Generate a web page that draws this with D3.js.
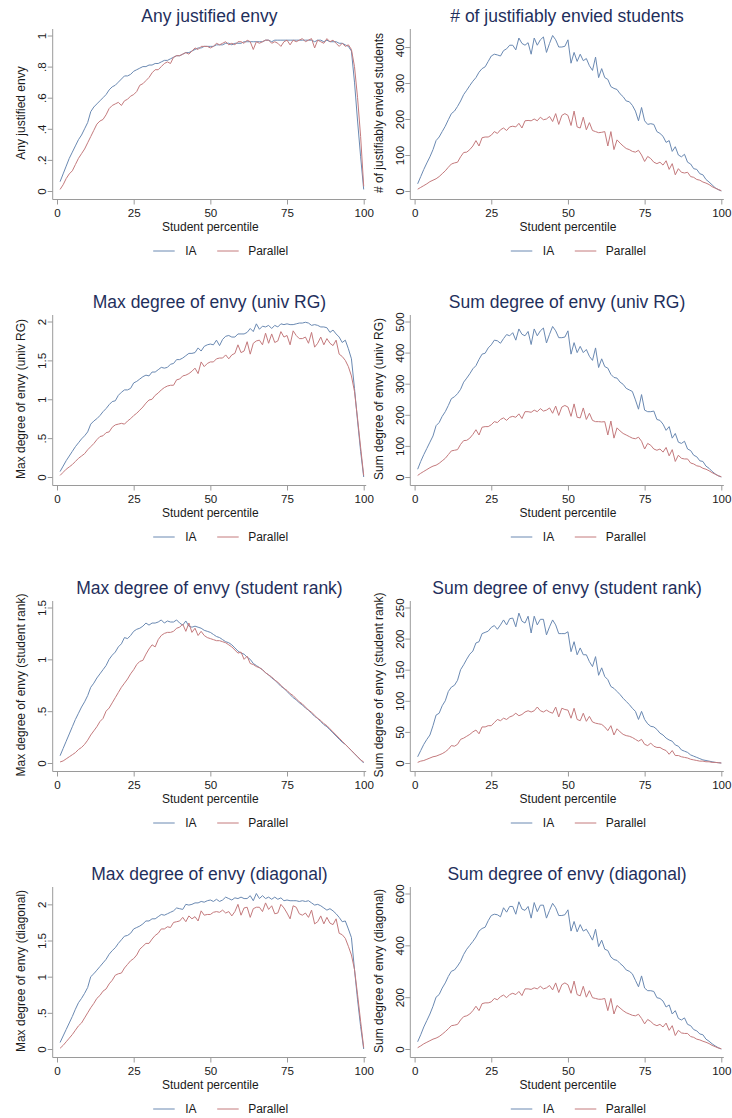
<!DOCTYPE html>
<html><head><meta charset="utf-8">
<script src="https://cdn.jsdelivr.net/npm/d3@7"></script>
<style>body{margin:0;background:#fff}svg{display:block;font-family:"Liberation Sans",Arial,sans-serif}</style>
</head><body><svg id="c" width="732" height="1118"></svg>
<script>
const percentile = d3.range(1, 101);
const xTicks = [0, 25, 50, 75, 100];
const xTitle = "Student percentile";
const seriesNames = ["IA", "Parallel"];

// Panel 1: Any justified envy
const anyEnvyIA = [.06,.11,.16,.21,.25,.29,.33,.36,.40,.44,
 .51,.54,.56,.58,.60,.62,.65,.67,.68,.70,
 .72,.74,.74,.75,.77,.78,.79,.80,.80,.81,
 .81,.82,.82,.83,.84,.84,.85,.86,.87,.87,
 .88,.89,.89,.90,.91,.92,.92,.93,.93,.93,
 .93,.94,.94,.94,.95,.95,.94,.95,.95,.95,
 .96,.96,.96,.96,.96,.96,.96,.97,.97,.96,
 .97,.97,.97,.97,.97,.97,.97,.97,.97,.97,
 .97,.97,.97,.96,.97,.97,.96,.97,.96,.96,
 .96,.95,.95,.94,.93,.90,.70,.45,.22,.01];
const anyEnvyPar = [.01,.04,.08,.11,.13,.17,.21,.24,.27,.31,
 .35,.39,.43,.45,.46,.49,.53,.55,.56,.57,
 .55,.58,.59,.61,.62,.64,.68,.69,.71,.73,
 .76,.78,.78,.80,.82,.83,.82,.86,.87,.87,
 .88,.89,.88,.90,.92,.91,.93,.93,.93,.92,
 .93,.95,.94,.95,.96,.94,.95,.94,.96,.96,
 .95,.97,.96,.91,.96,.95,.96,.97,.97,.95,
 .96,.95,.93,.96,.97,.94,.97,.96,.97,.98,
 .96,.97,.98,.92,.97,.96,.95,.98,.96,.97,
 .95,.93,.95,.93,.94,.91,.80,.60,.35,.03];

// Panel 2: # of justifiably envied students
const numEnviedIA = [20,40,60,78,95,115,140,150,165,180,
 198,215,222,235,250,268,280,293,305,315,
 330,340,345,360,375,380,378,375,390,395,
 405,405,392,425,410,405,412,380,425,405,
 420,428,385,410,432,420,400,400,402,420,
 355,385,360,380,362,368,348,335,372,315,
 340,315,310,290,285,282,270,262,250,248,
 238,222,195,232,195,185,187,185,165,160,
 152,135,140,110,123,100,95,102,80,75,
 62,60,48,45,32,25,17,9,4,0];
const numEnviedPar = [5,10,15,20,26,30,34,40,48,56,
 66,75,78,80,95,107,108,115,125,140,
 125,148,150,150,155,165,160,170,175,168,
 178,180,178,188,175,195,196,195,200,195,
 205,198,200,207,193,215,185,210,215,210,
 182,222,178,175,205,170,190,168,165,162,
 163,165,125,165,115,142,133,125,118,115,
 110,108,113,100,82,96,90,80,76,80,
 72,84,60,76,45,62,52,50,52,40,
 38,32,30,25,22,18,12,8,4,1];

// Panel 3: Max degree of envy (univ RG)
const maxRGIA = [.07,.14,.21,.27,.33,.39,.44,.49,.53,.58,
 .68,.72,.75,.79,.84,.88,.93,.97,.98,1.05,
 1.09,1.12,1.12,1.14,1.21,1.23,1.26,1.29,1.31,1.30,
 1.35,1.35,1.38,1.41,1.40,1.41,1.45,1.46,1.51,1.51,
 1.53,1.56,1.59,1.59,1.60,1.66,1.62,1.68,1.70,1.71,
 1.70,1.76,1.69,1.77,1.81,1.82,1.80,1.80,1.84,1.84,
 1.84,1.86,1.91,1.87,1.97,1.90,1.94,1.93,1.95,1.91,
 1.95,1.93,1.97,1.96,1.97,1.96,1.96,1.97,1.98,1.98,
 1.99,1.98,1.95,1.96,1.95,1.93,1.93,1.92,1.86,1.89,
 1.84,1.80,1.73,1.76,1.65,1.52,1.14,0.72,0.33,0.00];
const maxRGPar = [.02,.06,.10,.13,.16,.20,.24,.27,.30,.35,
 .39,.43,.48,.52,.53,.57,.58,.64,.67,.68,
 .69,.68,.72,.75,.79,.82,.86,.90,.95,.99,
 1.00,1.05,1.08,1.12,1.15,1.17,1.18,1.18,1.25,1.26,
 1.30,1.31,1.33,1.36,1.40,1.33,1.48,1.42,1.46,1.48,
 1.48,1.52,1.53,1.53,1.57,1.52,1.57,1.59,1.70,1.60,
 1.62,1.74,1.58,1.72,1.75,1.76,1.70,1.85,1.72,1.84,
 1.73,1.75,1.87,1.80,1.82,1.70,1.88,1.82,1.78,1.78,
 1.80,1.72,1.86,1.67,1.72,1.80,1.70,1.78,1.72,1.69,
 1.76,1.58,1.55,1.50,1.42,1.30,1.10,0.75,0.38,0.02];

// Panel 4: Sum degree of envy (univ RG)
const sumRGIA = [25,50,72,92,112,132,165,175,195,210,
 230,252,258,268,282,305,318,332,348,358,
 378,395,398,415,425,440,438,430,445,458,
 454,464,440,476,459,454,468,426,476,454,
 470,479,431,459,484,470,448,448,450,470,
 395,432,400,420,400,410,388,375,415,352,
 380,355,350,330,320,318,305,298,285,280,
 275,248,218,265,215,210,210,212,185,182,
 170,150,162,125,140,112,108,115,90,85,
 70,65,52,50,35,28,18,10,4,0];
const sumRGPar = [5,12,18,24,30,35,38,44,52,60,
 72,84,86,88,105,117,118,125,137,152,
 135,160,162,162,168,178,175,185,190,182,
 192,195,192,203,188,210,210,208,215,210,
 220,212,215,222,205,228,198,225,230,225,
 195,235,192,190,222,185,205,182,178,178,
 177,178,135,180,125,158,148,140,135,130,
 125,123,128,115,90,108,102,90,86,90,
 80,95,68,88,50,70,60,58,58,45,
 42,36,34,28,25,20,14,9,4,1];

// Panel 5: Max degree of envy (student rank)
const maxRankIA = [.07,.14,.21,.28,.35,.42,.48,.54,.59,.65,
 .73,.77,.82,.86,.90,.94,1.00,1.04,1.07,1.12,
 1.15,1.21,1.20,1.23,1.27,1.29,1.30,1.32,1.35,1.33,
 1.35,1.35,1.36,1.38,1.35,1.37,1.36,1.36,1.38,1.35,
 1.33,1.37,1.32,1.31,1.32,1.31,1.30,1.28,1.27,1.26,
 1.24,1.22,1.21,1.19,1.17,1.16,1.14,1.11,1.08,1.06,
 1.05,1.02,1.00,0.96,0.94,0.92,0.90,0.87,0.85,0.82,
 0.80,0.77,0.74,0.72,0.69,0.66,0.63,0.61,0.58,0.56,
 0.53,0.51,0.48,0.45,0.43,0.40,0.37,0.35,0.32,0.29,
 0.26,0.23,0.20,0.18,0.15,0.12,0.09,0.06,0.03,0.00];
const maxRankPar = [.01,.02,.04,.06,.08,.10,.13,.15,.18,.22,
 .27,.31,.35,.40,.43,.50,.53,.58,.63,.68,
 .73,.77,.81,.86,.90,.95,.98,.99,1.05,1.10,
 1.14,1.12,1.19,1.23,1.25,1.26,1.26,1.27,1.30,1.31,
 1.34,1.27,1.35,1.26,1.30,1.23,1.27,1.23,1.21,1.20,
 1.19,1.18,1.18,1.17,1.16,1.14,1.12,1.09,1.06,1.07,
 1.00,1.03,0.96,0.95,0.93,0.92,0.90,0.87,0.85,0.83,
 0.80,0.78,0.75,0.72,0.70,0.67,0.65,0.62,0.59,0.57,
 0.54,0.51,0.49,0.46,0.43,0.41,0.38,0.36,0.33,0.30,
 0.27,0.24,0.21,0.18,0.15,0.12,0.09,0.06,0.03,0.01];

// Panel 6: Sum degree of envy (student rank)
const sumRankIA = [10,20,30,38,45,60,77,80,92,100,
 115,122,125,133,150,158,167,175,180,193,
 195,208,210,212,218,221,215,222,230,222,
 232,233,219,241,228,225,236,209,236,222,
 231,231,206,219,230,222,208,208,208,211,
 179,195,174,185,174,174,163,155,171,141,
 153,139,134,123,120,115,110,104,99,94,
 88,83,70,83,70,63,59,58,54,48,
 45,40,37,35,29,27,21,19,17,13,
 11,9,7,5,4,3,2,1,0.5,0];
const sumRankPar = [1,3,4,6,8,10,11,13,15,18,
 22,28,27,30,38,40,43,46,50,53,
 47,58,58,60,60,65,70,68,72,70,
 74,76,80,76,78,82,84,82,84,90,
 84,82,85,82,80,90,74,88,86,85,
 72,88,70,68,80,67,75,66,64,63,
 62,58,52,60,45,55,50,46,44,43,
 41,38,35,38,30,28,32,27,25,25,
 22,20,14,20,12,12,10,9,8,6,
 5,4,3,3,2,2,1,1,0.5,0];

// Panel 7: Max degree of envy (diagonal)
const maxDiagIA = [.09,.18,.27,.36,.45,.55,.64,.70,.77,.85,
 1.00,1.04,1.09,1.14,1.19,1.24,1.31,1.36,1.40,1.46,
 1.51,1.56,1.57,1.60,1.66,1.68,1.70,1.73,1.77,1.77,
 1.80,1.80,1.83,1.86,1.85,1.87,1.89,1.91,1.95,1.94,
 1.93,2.00,1.99,2.00,2.02,2.02,2.04,2.03,2.05,2.06,
 2.04,2.07,2.04,2.06,2.10,2.08,2.06,2.09,2.08,2.10,
 2.08,2.08,2.12,2.05,2.15,2.08,2.12,2.08,2.10,2.07,
 2.10,2.07,2.09,2.05,2.06,2.05,2.05,2.05,2.04,2.05,
 2.04,2.05,2.02,1.99,2.00,1.98,1.95,1.92,1.94,1.91,
 1.87,1.82,1.76,1.77,1.66,1.54,1.10,0.68,0.31,0.00];
const maxDiagPar = [.01,.05,.10,.15,.20,.26,.32,.36,.43,.50,
 .57,.63,.70,.74,.80,.83,.90,.95,1.02,1.04,
 1.05,1.12,1.17,1.22,1.25,1.30,1.38,1.42,1.46,1.46,
 1.52,1.57,1.60,1.66,1.66,1.69,1.68,1.75,1.76,1.77,
 1.82,1.76,1.84,1.80,1.83,1.77,1.91,1.85,1.86,1.86,
 1.89,1.90,1.89,1.92,1.88,1.90,1.84,1.90,2.00,1.85,
 1.95,1.96,1.82,1.94,1.96,1.96,1.90,2.02,1.93,1.98,
 1.87,1.88,2.00,1.95,1.88,1.80,1.98,1.96,1.87,1.85,
 1.88,1.82,1.92,1.73,1.76,1.84,1.73,1.82,1.74,1.72,
 1.80,1.60,1.58,1.53,1.42,1.30,1.10,0.75,0.38,0.02];

// Panel 8: Sum degree of envy (diagonal)
const sumDiagIA = [28,55,85,110,135,165,200,210,235,255,
 280,300,305,320,338,365,385,400,415,432,
 455,465,470,495,515,520,518,510,545,528,
 550,550,520,568,540,535,550,505,565,530,
 555,555,505,535,562,545,515,515,518,537,
 455,492,452,480,455,462,442,420,462,395,
 420,385,380,355,345,342,330,320,305,300,
 290,265,240,282,235,225,225,222,198,195,
 185,162,170,135,148,118,112,120,95,90,
 75,70,58,55,38,30,20,12,5,0];
const sumDiagPar = [5,12,20,26,32,38,42,48,57,67,
 78,90,92,95,112,125,128,135,148,165,
 148,175,178,178,182,195,190,202,208,198,
 210,215,210,222,206,232,232,230,236,232,
 242,232,236,245,228,255,218,248,255,248,
 215,262,210,205,242,200,225,198,195,192,
 192,195,148,195,135,168,158,148,140,135,
 130,128,134,118,97,114,106,95,90,95,
 85,100,72,90,52,72,62,60,60,48,
 45,38,35,30,26,21,14,9,4,1];

const titles = ["Any justified envy", "# of justifiably envied students",
 "Max degree of envy (univ RG)", "Sum degree of envy (univ RG)",
 "Max degree of envy (student rank)", "Sum degree of envy (student rank)",
 "Max degree of envy (diagonal)", "Sum degree of envy (diagonal)"];
const yTitles = ["Any justified envy", "# of justifiably envied students",
 "Max degree of envy (univ RG)", "Sum degree of envy (univ RG)",
 "Max degree of envy (student rank)", "Sum degree of envy (student rank)",
 "Max degree of envy (diagonal)", "Sum degree of envy (diagonal)"];
const yTickValues = [[0,.2,.4,.6,.8,1],[0,100,200,300,400],[0,.5,1,1.5,2],[0,100,200,300,400,500],
 [0,.5,1,1.5],[0,50,100,150,200,250],[0,.5,1,1.5,2],[0,200,400,600]];
const yTickLabels = [["0",".2",".4",".6",".8","1"],["0","100","200","300","400"],["0",".5","1","1.5","2"],
 ["0","100","200","300","400","500"],["0",".5","1","1.5"],["0","50","100","150","200","250"],
 ["0",".5","1","1.5","2"],["0","200","400","600"]];
const iaSeries = [anyEnvyIA, numEnviedIA, maxRGIA, sumRGIA, maxRankIA, sumRankIA, maxDiagIA, sumDiagIA];
const parSeries = [anyEnvyPar, numEnviedPar, maxRGPar, sumRGPar, maxRankPar, sumRankPar, maxDiagPar, sumDiagPar];

const colors = {IA: "#6a89b2", Parallel: "#c47a7d"};
const titleColor = "#1f2f5c";
const axisColor = "#9a9a9a";
const textColor = "#1a1a1a";

const svg = d3.select("#c");
svg.append("rect").attr("width", 732).attr("height", 1118).attr("fill", "#fff");

const axisX = [52.7, 410.3];

titles.forEach((t, i) => {
  const col = i % 2, row = Math.floor(i / 2);
  const ax = axisX[col];
  const y0 = 191 + 286 * row;
  const g = svg.append("g");
  const ia = iaSeries[i], par = parSeries[i];
  const ticks = yTickValues[i];
  const top = Math.max(d3.max(ia), d3.max(par), ticks[ticks.length - 1]);
  const x = d3.scaleLinear().domain([0, 100]).range([ax + 4.3, ax + 311]);
  const y = d3.scaleLinear().domain([0, top]).range([y0, y0 - 155.5]);
  const baseY = y0 + 8.5;

  // axis lines
  g.append("line").attr("x1", ax).attr("x2", ax).attr("y1", baseY).attr("y2", y0 - 162)
    .attr("stroke", axisColor).attr("stroke-width", 1);
  g.append("line").attr("x1", ax).attr("x2", ax + 313.5).attr("y1", baseY).attr("y2", baseY)
    .attr("stroke", axisColor).attr("stroke-width", 1);

  // x axis
  const xa = g.append("g").attr("transform", `translate(0,${baseY})`)
    .call(d3.axisBottom(x).tickValues(xTicks).tickSize(5).tickSizeOuter(0).tickFormat(d3.format("d")));
  xa.select(".domain").remove();
  xa.selectAll(".tick line").attr("stroke", axisColor);
  xa.selectAll(".tick text").attr("y", 0).attr("dy", 0).attr("transform", "translate(0,17.5)")
    .attr("font-size", 11.6).attr("fill", textColor).attr("font-family", "Liberation Sans, Arial, sans-serif");

  // y axis
  const ya = g.append("g").attr("transform", `translate(${ax},0)`)
    .call(d3.axisLeft(y).tickValues(ticks).tickSize(5).tickSizeOuter(0)
      .tickFormat((d, k) => yTickLabels[i][k]));
  ya.select(".domain").remove();
  ya.selectAll(".tick line").attr("stroke", axisColor);
  ya.selectAll(".tick text").attr("x", 0).attr("dy", "0.36em").attr("text-anchor", "middle")
    .attr("transform", "translate(-10.5,0) rotate(-90)")
    .attr("font-size", 11.6).attr("fill", textColor).attr("font-family", "Liberation Sans, Arial, sans-serif");

  // titles
  g.append("text").attr("x", (ax + ax + 313.5) / 2).attr("y", y0 - 169)
    .attr("text-anchor", "middle").attr("font-size", 17.5).attr("fill", titleColor).text(t);
  g.append("text").attr("transform", `translate(${ax - 31.6},${y0 - 78}) rotate(-90)`)
    .attr("text-anchor", "middle").attr("dy", "0.36em").attr("font-size", 12).attr("fill", textColor)
    .text(yTitles[i]);
  g.append("text").attr("x", (x(0) + x(100)) / 2).attr("y", y0 + 39.5)
    .attr("text-anchor", "middle").attr("font-size", 12).attr("fill", textColor).text(xTitle);

  // lines
  const line = d3.line().x((d, k) => x(percentile[k])).y(d => y(d));
  g.append("path").datum(ia).attr("d", line).attr("fill", "none")
    .attr("stroke", colors.IA).attr("stroke-width", 1).attr("stroke-linejoin", "round");
  g.append("path").datum(par).attr("d", line).attr("fill", "none")
    .attr("stroke", colors.Parallel).attr("stroke-width", 1).attr("stroke-linejoin", "round");

  // legend
  const ly = y0 + 60;
  const leg = [[seriesNames[0], 100.5, 132.5], [seriesNames[1], 164.5, 195.5]];
  leg.forEach(([name, lx, tx]) => {
    g.append("line").attr("x1", ax + lx).attr("x2", ax + lx + 21.5).attr("y1", ly).attr("y2", ly)
      .attr("stroke", colors[name]).attr("stroke-width", 1);
    g.append("text").attr("x", ax + tx).attr("y", ly).attr("dy", "0.36em")
      .attr("font-size", 12).attr("fill", textColor).text(name);
  });
});
</script></body></html>
